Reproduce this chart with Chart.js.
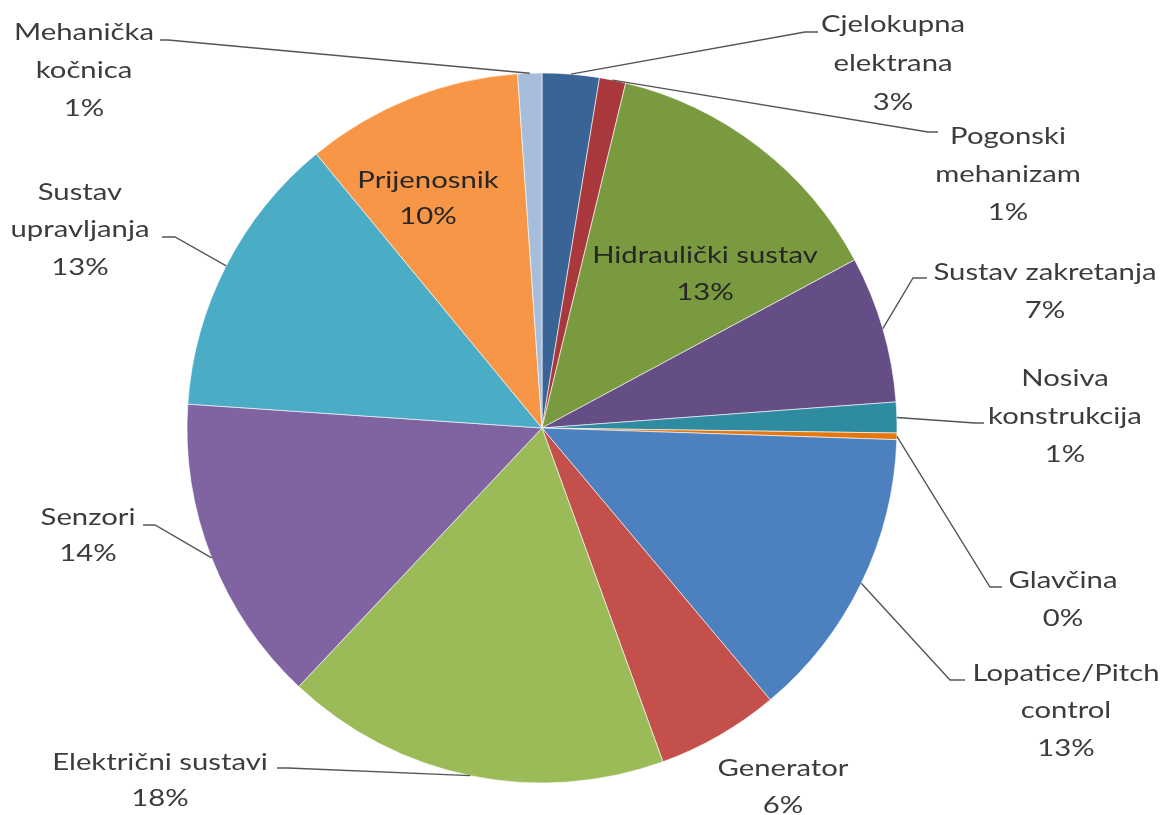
<!DOCTYPE html>
<html>
<head>
<meta charset="utf-8">
<script src="https://cdn.jsdelivr.net/npm/chart.js@4"></script>
<style>
html,body{margin:0;padding:0;background:#fff;}
#wrap{width:1174px;height:815px;position:relative;}
</style>
</head>
<body>
<div id="wrap"><canvas id="c"></canvas></div>
<script>
const categories = ['Cjelokupna elektrana','Pogonski mehanizam','Hidraulički sustav','Sustav zakretanja','Nosiva konstrukcija','Glavčina','Lopatice/Pitch control','Generator','Električni sustavi','Senzori','Sustav upravljanja','Prijenosnik','Mehanička kočnica'];
const values = [2.6, 1.2, 13.4, 6.7, 1.4, 0.3, 13.4, 5.6, 17.6, 14.1, 13.0, 9.9, 1.1];
const colors = ['#3B6496','#A8383B','#7A9A40','#644E85','#2F8BA0','#E4780F','#4D80BF','#C4504C','#9BBB59','#8064A2','#4BACC6','#F79646','#A6BDDB'];

// label layout (text lines split, text centre, leader elbow and stub end)
const labelLayout = [
  {lines:['Cjelokupna','elektrana'], x:893, y:24, lh:39, elbow:[805,32], stub:[818,32]},
  {lines:['Pogonski','mehanizam'], x:1008, y:136, lh:38, elbow:[928,132], stub:[938,132]},
  {lines:['Hidraulički sustav'], x:705, y:255, lh:37, inside:true},
  {lines:['Sustav zakretanja'], x:1045, y:272, lh:38, elbow:[913,278], stub:[927,278]},
  {lines:['Nosiva','konstrukcija'], x:1065, y:378, lh:38, elbow:[975,423], stub:[984,423]},
  {lines:['Glavčina'], x:1063, y:580, lh:38, elbow:[990,587], stub:[1002,587]},
  {lines:['Lopatice/Pitch','control'], x:1066, y:673, lh:37.5, elbow:[950,680], stub:[965,680]},
  {lines:['Generator'], x:783, y:768, lh:37},
  {lines:['Električni sustavi'], x:160, y:762, lh:36, elbow:[288,768], stub:[277,768]},
  {lines:['Senzori'], x:88, y:517, lh:36, elbow:[155,525], stub:[143,525]},
  {lines:['Sustav','upravljanja'], x:80, y:192, lh:37.5, elbow:[175,237], stub:[162,237]},
  {lines:['Prijenosnik'], x:428, y:180, lh:36, inside:true},
  {lines:['Mehanička','kočnica'], x:84, y:32, lh:38, elbow:[168,40], stub:[160,40]}
];

const total = values.reduce((a,b)=>a+b,0);
const pctLabels = values.map(v => Math.round(v/total*100) + '%');

const labelPlugin = {
  id:'pieLabels',
  afterDatasetsDraw(chart){
    const ctx = chart.ctx;
    const meta = chart.getDatasetMeta(0);
    ctx.save();
    meta.data.forEach((arc,i)=>{
      const L = labelLayout[i];
      const p = arc.getProps(['x','y','startAngle','endAngle','outerRadius'], true);
      if (L.elbow){
        const mid = (p.startAngle + p.endAngle)/2;
        const sx = p.x + Math.cos(mid)*p.outerRadius;
        const sy = p.y + Math.sin(mid)*p.outerRadius;
        ctx.beginPath();
        ctx.strokeStyle = '#555555';
        ctx.lineWidth = 1.4;
        ctx.moveTo(sx,sy);
        ctx.lineTo(L.elbow[0],L.elbow[1]);
        ctx.lineTo(L.stub[0],L.stub[1]);
        ctx.stroke();
      }
      const lines = L.lines.concat([pctLabels[i]]);
      ctx.font = '24px Lato, "Open Sans", sans-serif';
      ctx.fillStyle = L.inside ? '#262626' : '#3c3c3c';
      ctx.textAlign = 'center';
      ctx.textBaseline = 'middle';
      lines.forEach((t,k)=>{
        ctx.save();
        ctx.translate(L.x, L.y + k*L.lh);
        ctx.scale(1.22, 1);
        ctx.fillText(t, 0, 0);
        ctx.restore();
      });
    });
    ctx.restore();
  }
};

new Chart(document.getElementById('c'), {
  type:'pie',
  data:{
    labels: categories,
    datasets:[{
      data: values,
      backgroundColor: colors,
      borderColor:'#ffffff',
      borderWidth:0.6,
      hoverOffset:0,
      radius:355
    }]
  },
  options:{
    responsive:true,
    maintainAspectRatio:false,
    animation:false,
    layout:{padding:{left:150,right:240,top:73,bottom:32}},
    plugins:{legend:{display:false}, tooltip:{enabled:false}}
  },
  plugins:[labelPlugin]
});
</script>
</body>
</html>
